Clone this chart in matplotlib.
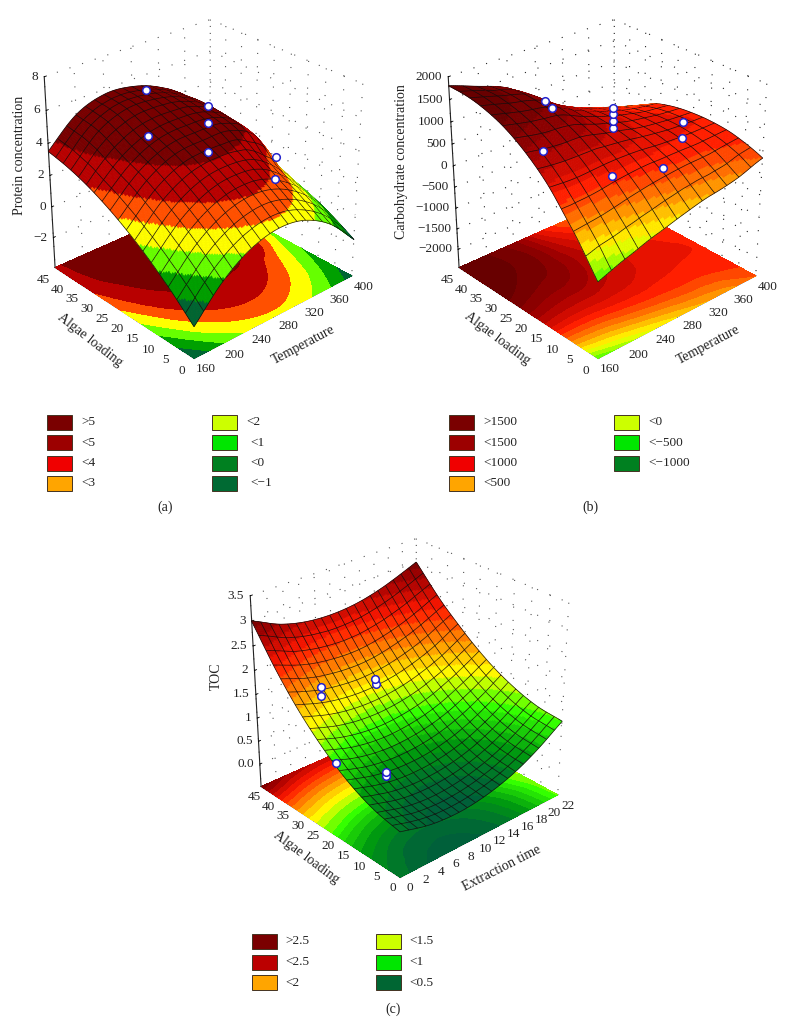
import numpy as np
import matplotlib
matplotlib.use('Agg')
import matplotlib.pyplot as plt
import matplotlib.tri as mtri
from matplotlib.colors import BoundaryNorm, LinearSegmentedColormap, ListedColormap
from matplotlib.patches import Rectangle
from mpl_toolkits.mplot3d import proj3d
from mpl_toolkits.mplot3d.art3d import Poly3DCollection

plt.rcParams['font.family'] = ['Liberation Serif', 'DejaVu Sans']
plt.rcParams['font.size'] = 10

W, H = 792, 1035

# response surfaces, rows are algae loading
temperature = [160, 200, 240, 280, 320, 360, 400]
extraction_time = [0, 3.7, 7.3, 11, 14.7, 18.3, 22]
algae = [0, 7.5, 15, 22.5, 30, 37.5, 45]

protein = [
    [-2.00, -0.10, 1.07, 1.50, 1.20, 0.17, -1.60],
    [-0.53, 1.28, 2.35, 2.69, 2.29, 1.17, -0.69],
    [0.72, 2.43, 3.41, 3.65, 3.30, 1.95, -0.01],
    [1.75, 3.37, 4.25, 4.40, 4.32, 3.30, 0.45],
    [2.56, 4.08, 4.87, 5.00, 4.75, 3.64, 0.69],
    [3.14, 4.82, 5.52, 5.47, 4.95, 3.75, 0.71],
    [3.50, 5.08, 5.69, 5.55, 4.90, 3.60, 0.50],
]
carbohydrate = [
    [-700, -470, -270, -100, 40, 150, 350],
    [150, 220, 342, 433, 480, 500, 560],
    [850, 800, 814, 780, 700, 650, 640],
    [1320, 1200, 1143, 950, 780, 680, 620],
    [1620, 1460, 1332, 1020, 780, 600, 500],
    [1770, 1580, 1380, 930, 620, 400, 200],
    [1800, 1558, 1287, 700, 330, 100, -100],
]
toc = [
    [0.45, 0.29, 0.24, 0.30, 0.46, 0.73, 1.10],
    [0.57, 0.40, 0.34, 0.39, 0.54, 0.80, 1.16],
    [0.81, 0.64, 0.57, 0.60, 0.74, 0.99, 1.34],
    [1.18, 0.99, 0.91, 0.94, 1.07, 1.31, 1.62],
    [1.66, 1.47, 1.38, 1.39, 1.50, 1.70, 2.00],
    [2.27, 2.05, 1.94, 1.92, 2.02, 2.20, 2.45],
    [3.00, 2.72, 2.58, 2.55, 2.62, 2.78, 3.00],
]

# measured points
protein_t = [278, 280, 276, 276, 276, 337, 337]
protein_a = [40, 40, 20, 20, 20, 12, 12]
protein_z = [5.85, 2.95, 6.8, 5.8, 4.05, 3.45, 2.1]

carb_t = [280, 285, 280, 280, 280, 280, 280, 280, 340, 340, 340]
carb_a = [42, 41, 43, 20.5, 20.5, 20.5, 20.5, 21, 12, 12, 17.5]
carb_z = [860, 700, -360, 1470, 1330, 1185, 1030, -85, 1085, 737, -175]

toc_t = [5.7, 5.7, 11, 11, 5.5, 5.5, 5.5]
toc_a = [38, 38, 33, 33, 33, 17, 17]
toc_z = [1.53, 1.35, 1.53, 1.43, 0.10, 0.54, 0.47]

# colour bands
protein_levels = [-100, -1, 0, 0.9, 1.8, 2.7, 3.9, 100]
protein_colors = ['#006633', '#00a000', '#66ff00', '#ffff00', '#ff5000', '#b80000', '#780000']

carb_levels = [-1000, -700, -550, -400, -250, -100, 50, 200, 350, 500, 650, 800, 950, 1100, 1250, 1400, 1550, 1700,
               3000]
carb_stops = [-750, -250, 150, 600, 1100, 1600]
toc_levels = [-1, 0.3, 0.4, 0.5, 0.6, 0.7, 0.8, 0.9, 1.0, 1.1, 1.25, 1.4, 1.55, 1.7, 1.85, 2.0, 2.15, 2.3, 2.45,
              2.6, 2.75, 2.9, 3.05, 3.6]
toc_stops = [0.3, 0.65, 1.05, 1.45, 1.85, 2.3, 2.75, 3.1]
spectrum = LinearSegmentedColormap.from_list(
    'stat', ['#00603a', '#009a10', '#33ff00', '#ffff00', '#ff9000', '#ff1800', '#a80000', '#680000'])

# legends
legend_a = ['>5', '<5', '<4', '<3', '<2', '<1', '<0', '<\u22121']
legend_a_colors = ['#7a0000', '#9c0000', '#f00000', '#ffa500', '#ccff00', '#00e600', '#008020', '#006a33']
legend_b = ['>1500', '<1500', '<1000', '<500', '<0', '<\u2212500', '<\u22121000']
legend_b_colors = ['#7a0000', '#9c0000', '#f00000', '#ffa500', '#ccff00', '#00e600', '#008020']
legend_c = ['>2.5', '<2.5', '<2', '<1.5', '<1', '<0.5']
legend_c_colors = ['#7a0000', '#bb0000', '#ffa500', '#ccff00', '#00e600', '#006633']


def smooth_grid(x, y, z, n):
    # refine the read grid with matplotlib's cubic interpolator so bands stay smooth
    ii, jj = np.meshgrid(np.arange(len(x)), np.arange(len(y)))
    tri = mtri.Triangulation(ii.ravel(), jj.ravel())
    interp = mtri.CubicTriInterpolator(tri, np.ravel(z), kind='geom')
    fi = np.clip(np.linspace(0, len(x) - 1, n + 1), 1e-6, len(x) - 1 - 1e-6)
    fj = np.clip(np.linspace(0, len(y) - 1, n + 1), 1e-6, len(y) - 1 - 1e-6)
    fii, fjj = np.meshgrid(fi, fj)
    zf = np.asarray(interp(fii, fjj))
    xf = np.interp(fi, np.arange(len(x)), x)
    yf = np.interp(fj, np.arange(len(y)), y)
    xx, yy = np.meshgrid(xf, yf)
    return xx, yy, zf


def band_colors(levels, stops, t_values):
    mids = 0.5 * (np.array(levels[:-1]) + np.array(levels[1:]))
    return [spectrum(v) for v in np.interp(mids, stops, t_values)]


def draw_surface(ax, xx, yy, zz, cmap, norm, step, lims, el, az):
    n = xx.shape[0] - 1
    quads = []
    vals = []
    for j in range(n):
        for i in range(n):
            quads.append([(xx[j, i], yy[j, i], zz[j, i]), (xx[j, i + 1], yy[j, i + 1], zz[j, i + 1]),
                          (xx[j + 1, i + 1], yy[j + 1, i + 1], zz[j + 1, i + 1]),
                          (xx[j + 1, i], yy[j + 1, i], zz[j + 1, i])])
            vals.append(zz[j:j + 2, i:i + 2].mean())
    fc = cmap(norm(np.array(vals)))

    # mesh lines go in the same collection so the depth sort hides them properly
    d = 0.012
    er, ar = np.radians(el), np.radians(az)
    cam = np.array([np.cos(er) * np.cos(ar), np.cos(er) * np.sin(ar), np.sin(er)])
    shift = d * cam * np.array([l[1] - l[0] for l in lims])
    segs = []
    for k in range(0, n + 1, step):
        for m in range(n):
            a = np.array([xx[k, m], yy[k, m], zz[k, m]]) + shift
            b = np.array([xx[k, m + 1], yy[k, m + 1], zz[k, m + 1]]) + shift
            segs.append([a, b, b, a])
            a = np.array([xx[m, k], yy[m, k], zz[m, k]]) + shift
            b = np.array([xx[m + 1, k], yy[m + 1, k], zz[m + 1, k]]) + shift
            segs.append([a, b, b, a])
    line_rgba = np.tile([0.08, 0.05, 0.05, 1.0], (len(segs), 1))

    pc = Poly3DCollection(quads + [[tuple(p) for p in s] for s in segs],
                          facecolors=np.vstack([fc, line_rgba]),
                          edgecolors=np.vstack([fc, line_rgba]), linewidths=0.5)
    pc.set_zorder(2)
    ax.add_collection3d(pc)


def put_label(ax, M, x, y, z, text, dx, dy, ha):
    px, py, _ = proj3d.proj_transform(x, y, z, M)
    ax.annotate(text, xy=(px, py), xytext=(dx, dy), textcoords='offset pixels', ha=ha, va='center',
                fontsize=9.5, color='#222222', annotation_clip=False, zorder=5)


def panel(rect, x, y, z, xticks, yticks, zticks, zlim, levels, colors, px, py, pz, cells,
          ztick_labels, grid_color='#555555', x_off=(12, -11), y_off=(-12, -13)):
    left, top, w, h = rect
    ax = fig.add_axes([left / W, 1 - (top + h) / H, w / W, h / H], projection='3d',
                      computed_zorder=False, proj_type='persp', focal_length=0.7)
    el, az = 28.5, -132
    ax.view_init(elev=el, azim=az)
    xlim = (x[0], x[-1])
    ylim = (y[0], y[-1])
    ax.set_xlim(*xlim, view_margin=0)
    ax.set_ylim(*ylim, view_margin=0)
    ax.set_zlim(*zlim, view_margin=0)
    ax.set_box_aspect((1, 1, 1.0), zoom=0.95)
    ax.patch.set_alpha(0)

    cmap = ListedColormap(colors)
    norm = BoundaryNorm(levels, cmap.N)
    step = 7
    xx, yy, zz = smooth_grid(x, y, z, step * cells)
    ax.contourf(xx, yy, zz, levels=levels, colors=colors, zdir='z', offset=zlim[0], zorder=1)
    draw_surface(ax, xx, yy, zz, cmap, norm, step, (xlim, ylim, zlim), el, az)
    ax.scatter(px, py, pz, s=30, facecolor='white', edgecolor='#2222cc', linewidth=1.1,
               depthshade=False, zorder=3)

    ax.set_xticks(xticks)
    ax.set_yticks(yticks)
    ax.set_zticks(zticks)
    ax.set_xticklabels([])
    ax.set_yticklabels([])
    ax.set_zticklabels([])
    for axis in (ax.xaxis, ax.yaxis, ax.zaxis):
        axis.pane.set_alpha(0)
        axis.pane.set_edgecolor((0, 0, 0, 0))
        axis.line.set_color('#222222')
        axis.line.set_linewidth(0.8)
        axis._axinfo['grid'].update(color=grid_color, linewidth=0.8, linestyle=(0, (1, 11)))
        axis._axinfo['tick'].update(inward_factor=0.0, outward_factor=0.15, linewidth={True: 0.6, False: 0.6})
    ax.zaxis.set_ticks_position('upper')

    # tick labels sit a fixed pixel distance from the projected tick
    M = ax.get_proj()
    for t in xticks:
        put_label(ax, M, t, ylim[0], zlim[0], str(t), x_off[0], x_off[1], 'center')
    for t in yticks:
        put_label(ax, M, xlim[0], t, zlim[0], str(t), y_off[0], y_off[1], 'center')
    for t, s in zip(zticks, ztick_labels):
        put_label(ax, M, xlim[0], ylim[1], t, s, -6, 0, 'right')
    return ax


def axis_text(x, y, text, rotation):
    fig.text(x / W, 1 - y / H, text, ha='center', va='center', rotation=rotation, rotation_mode='anchor',
             fontsize=10, color='#222222')


def legend_block(labels, colors, x_cols, y0, dy, n_first, label_dx):
    for k, (lab, col) in enumerate(zip(labels, colors)):
        c = 0 if k < n_first else 1
        r = k if k < n_first else k - n_first
        x = x_cols[c]
        y = y0 + r * dy
        fig.add_artist(Rectangle((x / W, 1 - (y + 15) / H), 25 / W, 15 / H, transform=fig.transFigure,
                                 facecolor=col, edgecolor='#443322', linewidth=0.7))
        fig.text((x + label_dx[k]) / W, 1 - (y + 7.5) / H, lab, ha='left', va='center', fontsize=9.5,
                 color='#222222')


fig = plt.figure(figsize=(W / 100, H / 100), dpi=100, facecolor='white')

panel((5, -8, 385, 385), temperature, algae, protein, temperature, list(range(0, 46, 5)), [-2, 0, 2, 4, 6, 8],
      (-4, 8), protein_levels, protein_colors, protein_t, protein_a, protein_z, 18,
      ['\u22122', '0', '2', '4', '6', '8'])

panel((409, -8, 385, 385), temperature, algae, carbohydrate, temperature, list(range(0, 46, 5)),
      list(range(-2000, 2001, 500)), (-2450, 2000), carb_levels,
      band_colors(carb_levels, carb_stops, [2 / 7, 3 / 7, 4 / 7, 5 / 7, 6 / 7, 1]),
      carb_t, carb_a, carb_z, 13,
      ['\u22122000', '\u22121500', '\u22121000', '\u2212500', '0', '500', '1000', '1500', '2000'], '#222222')

panel((211, 511, 385, 385), extraction_time, algae, toc, list(range(0, 23, 2)), list(range(0, 46, 5)),
      [0, 0.5, 1, 1.5, 2, 2.5, 3, 3.5], (-0.5, 3.5), toc_levels,
      band_colors(toc_levels, toc_stops, np.arange(8) / 7), toc_t, toc_a, toc_z, 20,
      ['0.0', '0.5', '1', '1.5', '2', '2.5', '3', '3.5'], x_off=(10, -11), y_off=(-7, -11))

axis_text(303, 345, 'Temperature', 28)
axis_text(90, 340, 'Algae loading', -38)
axis_text(20, 155, 'Protein concentration', 90)
axis_text(708, 345, 'Temperature', 28)
axis_text(497, 338, 'Algae loading', -37)
axis_text(402, 162, 'Carbohydrate concentration', 90)
axis_text(502, 868, 'Extraction time', 27)
axis_text(306, 857, 'Algae loading', -37)
axis_text(216, 676, 'TOC', 90)

legend_block(legend_a, legend_a_colors, (47, 212), 414.5, 20.5, 4, [34, 34, 34, 34, 34, 38, 38, 38])
legend_block(legend_b, legend_b_colors, (449, 614), 414.5, 20.5, 4, [34] * 7)
legend_block(legend_c, legend_c_colors, (252, 376), 934, 20.5, 3, [33] * 6)

fig.text(165 / W, 1 - 507 / H, '(a)', ha='center', va='center', fontsize=10, color='#222222')
fig.text(590 / W, 1 - 507 / H, '(b)', ha='center', va='center', fontsize=10, color='#222222')
fig.text(393 / W, 1 - 1009 / H, '(c)', ha='center', va='center', fontsize=10, color='#222222')

fig.savefig('out.png', dpi=100)
